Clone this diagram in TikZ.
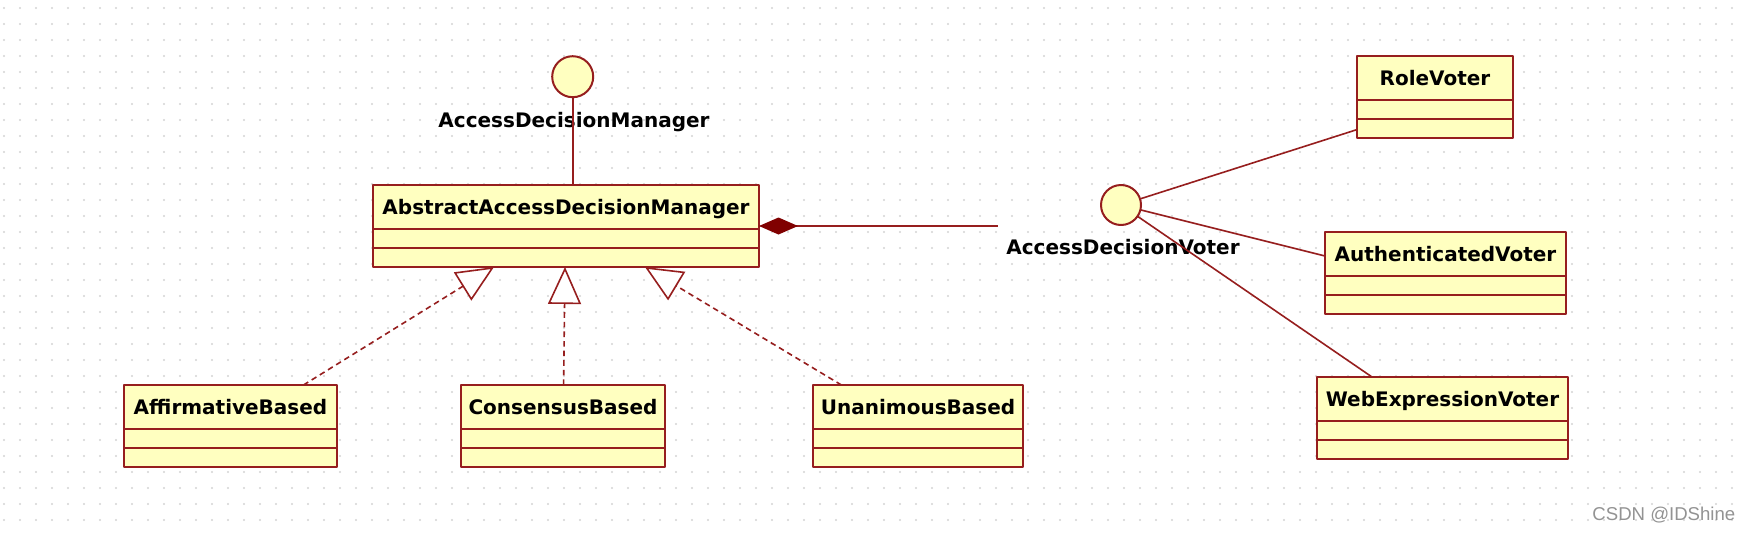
\documentclass[tikz,border=0pt]{standalone}
\usepackage{fontspec}
\setmainfont{DejaVu Sans}
\newfontfamily\wmfont{Liberation Sans}
\usetikzlibrary{arrows.meta}
\definecolor{umlred}{RGB}{150,30,30}
\definecolor{umldark}{RGB}{128,0,0}
\definecolor{umlfill}{RGB}{255,255,192}
\definecolor{dotgray}{RGB}{212,212,212}
\tikzset{
  cls/.style={draw=umlred, fill=umlfill, line width=1pt, minimum height=41pt, inner sep=0pt, outer sep=0pt},
  clsname/.style={anchor=base, font=\fontsize{10}{12}\selectfont\bfseries, inner sep=0pt},
  ifc/.style={circle, draw=umlred, fill=umlfill, line width=1pt, inner sep=0pt, outer sep=0pt},
  assoc/.style={draw=umlred, line width=0.8pt},
  real/.style={draw=umlred, line width=0.8pt, dash pattern=on 2.8pt off 2pt, -{Triangle[open, fill=white, length=18.5pt, width=16.5pt]}},
}
\begin{document}
\begin{tikzpicture}[x=0.5pt, y=-0.5pt, line join=round]
		\fill[white] (0,0) rectangle (1746,536);
		\useasboundingbox (0,0) rectangle (1746,536);
		\foreach \i in {0,...,108} \foreach \j in {0,...,32} \fill[dotgray] ({4+16*\i},{8+16*\j}) circle (0.6pt);
		\foreach \nm/\xa/\ya/\xb/\txt in {abs/373/185/759/AbstractAccessDecisionManager, aff/124/385/337/AffirmativeBased, con/461/385/665/ConsensusBased, una/813/385/1023/UnanimousBased, role/1357/56/1513/RoleVoter, auth/1325/232/1566/AuthenticatedVoter, web/1317/377/1568/WebExpressionVoter}{
			\node[cls, minimum width={(\xb-\xa)*0.5pt}] (\nm) at ({(\xa+\xb)/2},{\ya+41}) {};
			\node[clsname] (\nm-t) at ([yshift=-14.5pt]\nm.north) {\txt};
			\draw[umlred, line width=1pt] ([yshift=-22pt]\nm.north west) -- ([yshift=-22pt]\nm.north east);
			\draw[umlred, line width=1pt] ([yshift=-31.25pt]\nm.north west) -- ([yshift=-31.25pt]\nm.north east);
		}
		\node[ifc, minimum size=20.5pt] (adm) at (572.7,76.7) {};
		\node[clsname] (adm-t) at (574,127) {AccessDecisionManager};
		\node[ifc, minimum size=20pt] (adv) at (1121,205) {};
		\node[clsname] (adv-t) at (1123,254) {AccessDecisionVoter};
		\coordinate (compend) at (998,226);
		\draw[assoc] (adm) -- (adm.south |- abs.north);
		\draw[assoc, {Diamond[length=19.5pt, width=8.5pt, fill=umldark, color=umldark]}-] (abs.east) -- (compend);
		\draw[real] ([xshift=36.5pt]aff.north) -- ([xshift=-36pt]abs.south);
		\draw[real] ([xshift=0.3pt]con.north) -- ([xshift=-0.5pt]abs.south);
		\draw[real] ([xshift=-38.3pt]una.north) -- ([xshift=39.5pt]abs.south);
		\draw[assoc] (adv) -- ([yshift=4.2pt]role.south west);
		\draw[assoc] (adv) -- ([yshift=-12pt]auth.north west);
		\draw[assoc] (adv) -- ([xshift=27.5pt]web.north west);
		\node[anchor=base west, font=\wmfont\fontsize{9.3}{11}\selectfont, text=gray!85, inner sep=0pt] (wm) at (1592,520.7) {CSDN @IDShine};
\end{tikzpicture}
\end{document}
